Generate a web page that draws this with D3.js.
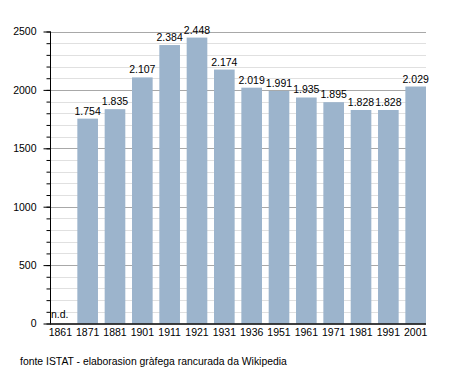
<!DOCTYPE html>
<html>
<head>
<meta charset="utf-8">
<script src="https://cdnjs.cloudflare.com/ajax/libs/d3/7.8.5/d3.min.js"></script>
<style>
  body { margin: 0; background: #fff; }
  svg text { font-family: "Liberation Sans", Arial, sans-serif; fill: #000; }
</style>
</head>
<body>
<div id="chart"></div>
<script>
// census years and population (null = n.d.)
var years = ["1861", "1871", "1881", "1901", "1911", "1921", "1931", "1936", "1951", "1961", "1971", "1981", "1991", "2001"];
var population = [null, 1754, 1835, 2107, 2384, 2448, 2174, 2019, 1991, 1935, 1895, 1828, 1828, 2029];
var yTicks = [0, 500, 1000, 1500, 2000, 2500];
var footer = "fonte ISTAT - elaborasion gràfega rancurada da Wikipedia";

var width = 455, height = 373;
var plotLeft = 50, plotRight = 426, plotTop = 31.5, plotBottom = 323.5;

var svg = d3.select("#chart").append("svg")
    .attr("width", width)
    .attr("height", height);

var x = d3.scaleBand()
    .domain(years)
    .range([plotLeft, plotRight])
    .paddingInner(0.245)
    .paddingOuter(0)
    .align(0);

var y = d3.scaleLinear()
    .domain([0, 2500])
    .range([plotBottom, plotTop]);

var barData = years.map(function(yr, i) { return {year: yr, value: population[i]}; })
    .filter(function(d) { return d.value != null; });

// minor grid every 100
svg.append("g").selectAll("line")
    .data(d3.range(100, 2500, 100).filter(function(v) { return v % 500 != 0; }))
    .enter().append("line")
    .attr("x1", plotLeft).attr("x2", plotRight)
    .attr("y1", function(d) { return Math.round(y(d)) + 0.5; })
    .attr("y2", function(d) { return Math.round(y(d)) + 0.5; })
    .attr("stroke", "#e0e0e0")
    .attr("stroke-width", 1);

// major grid
svg.append("g").selectAll("line")
    .data(yTicks.slice(1))
    .enter().append("line")
    .attr("x1", plotLeft).attr("x2", plotRight)
    .attr("y1", function(d) { return Math.round(y(d)) + 0.5; })
    .attr("y2", function(d) { return Math.round(y(d)) + 0.5; })
    .attr("stroke", "#a8a8a8")
    .attr("stroke-width", 1);

// bars
svg.append("g").selectAll("rect")
    .data(barData)
    .enter().append("rect")
    .attr("x", function(d) { return x(d.year); })
    .attr("y", function(d) { return y(d.value); })
    .attr("width", x.bandwidth())
    .attr("height", function(d) { return y(0) - y(d.value); })
    .attr("fill", "#9cb4cc");

// value labels
svg.append("g").selectAll("text")
    .data(barData)
    .enter().append("text")
    .attr("x", function(d) { return x(d.year) + x.bandwidth() / 2; })
    .attr("y", function(d) { return y(d.value) - 4; })
    .attr("text-anchor", "middle")
    .style("font-size", "10.5px")
    .text(function(d) { return d3.format(",")(d.value).replace(",", "."); });

// n.d.
svg.append("text")
    .attr("x", x("1861") + 1)
    .attr("y", plotBottom - 6)
    .style("font-size", "10.5px")
    .text("n.d.");

// y axis minor ticks
var yMinor = d3.axisLeft(y)
    .tickValues(d3.range(0, 2501, 100))
    .tickSize(4)
    .tickFormat("");
svg.append("g")
    .attr("transform", "translate(" + (plotLeft + 0.5) + ",0)")
    .call(yMinor)
    .call(function(g) {
        g.select(".domain").remove();
        g.selectAll("line").attr("stroke", "#000");
    });

var yAxis = d3.axisLeft(y)
    .tickValues(yTicks)
    .tickSize(7)
    .tickPadding(7)
    .tickFormat(d3.format("d"));
svg.append("g")
    .attr("transform", "translate(" + (plotLeft + 0.5) + ",0)")
    .call(yAxis)
    .call(function(g) {
        g.select(".domain").attr("d", "M0," + plotTop + "V" + plotBottom).attr("stroke", "#000");
        g.selectAll("line").attr("stroke", "#000");
        g.selectAll("text").style("font-size", "10.5px").attr("font-family", null);
    });

// x axis
var xAxis = d3.axisBottom(x).tickSize(0).tickPadding(5);
svg.append("g")
    .attr("transform", "translate(0," + (plotBottom + 0.5) + ")")
    .call(xAxis)
    .call(function(g) {
        g.select(".domain").attr("d", "M" + plotLeft + ",0H" + plotRight).attr("stroke", "#000").attr("stroke-width", 1.5);
        g.selectAll("text").style("font-size", "10.5px").attr("font-family", null);
    });

// footer
svg.append("text")
    .attr("x", 20)
    .attr("y", 365)
    .style("font-size", "10.4px")
    .text(footer);
</script>
</body>
</html>
